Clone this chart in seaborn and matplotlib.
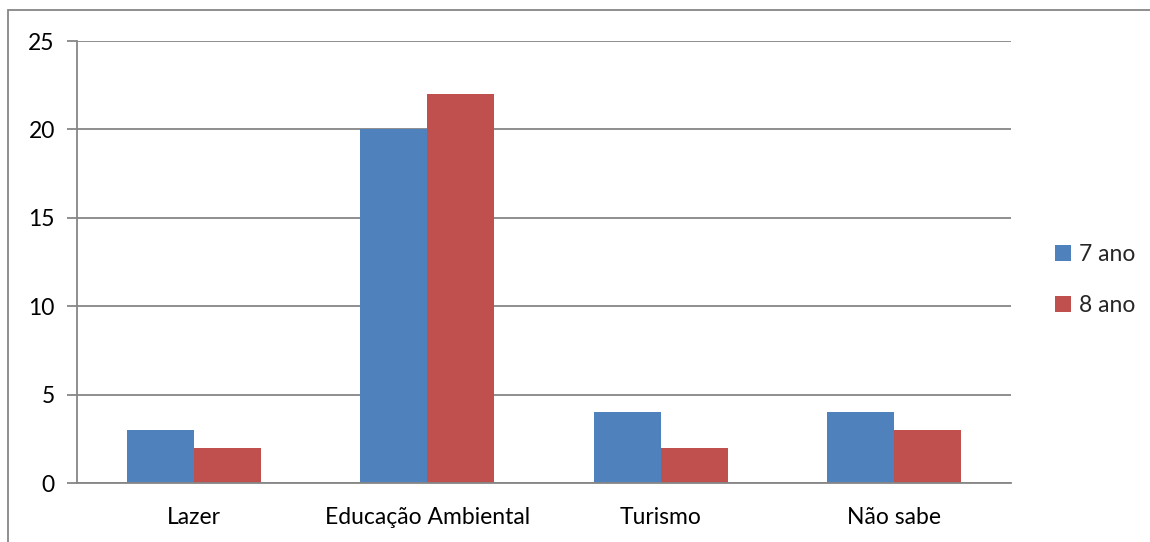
import matplotlib.pyplot as plt
import seaborn as sns
import pandas as pd
from matplotlib.patches import Rectangle, Patch

categorias = ['Lazer', 'Educação Ambiental', 'Turismo', 'Não sabe']
ano7 = [3, 20, 4, 4]
ano8 = [2, 22, 2, 3]
series = ['7 ano', '8 ano']

df = pd.DataFrame({
    'categoria': categorias * 2,
    'valor': ano7 + ano8,
    'serie': [series[0]] * 4 + [series[1]] * 4,
})

sns.set_style('white')
plt.rcParams['font.family'] = ['Lato', 'DejaVu Sans']

cores = ['#4F81BD', '#C0504D']
grid_c = '#868686'
fs = 16.5

fig = plt.figure(figsize=(11.5, 5.42), dpi=100)
ax = fig.add_axes([77 / 1150, 1 - 483 / 542, (1011 - 77) / 1150, (483 - 41) / 542])

sns.barplot(data=df, x='categoria', y='valor', hue='serie', palette=cores,
            width=0.573, gap=0, saturation=1, linewidth=0, ax=ax, legend=False)

ax.set_ylim(0, 25)
ax.set_xlim(-0.5, 3.5)
ax.set_yticks([0, 5, 10, 15, 20, 25])
ax.yaxis.grid(True, color=grid_c, linewidth=1.3)
ax.set_axisbelow(True)
ax.set_xlabel('')
ax.set_ylabel('')

for s in ['top', 'right']:
    ax.spines[s].set_visible(False)
for s in ['left', 'bottom']:
    ax.spines[s].set_color(grid_c)
    ax.spines[s].set_linewidth(1.3)

ax.set_xticks([-0.5, 0.5, 1.5, 2.5, 3.5], minor=True)
ax.tick_params(axis='x', which='major', length=0, pad=17, labelsize=fs)
ax.tick_params(axis='x', which='minor', length=7, width=1.3, color=grid_c, direction='out')
ax.tick_params(axis='y', length=7, width=1.3, color=grid_c, direction='out',
               labelsize=fs, pad=9, left=True)

for t in ax.get_xticklabels() + ax.get_yticklabels():
    t.set_color('black')

handles = [Patch(facecolor=c, edgecolor='none') for c in cores]
fig.legend(handles, series, loc='center left', bbox_to_anchor=(1034 / 1150, 1 - 280 / 542),
           frameon=False, fontsize=fs, handlelength=0.7, handleheight=0.7,
           handletextpad=0.35, labelspacing=1.3)

# moldura da figura
fig.add_artist(Rectangle((8 / 1150, -0.1), 1.2, 1 - 10 / 542 + 0.1,
                         transform=fig.transFigure, fill=False,
                         edgecolor=grid_c, linewidth=1.3))

plt.savefig('out.png', dpi=100)
